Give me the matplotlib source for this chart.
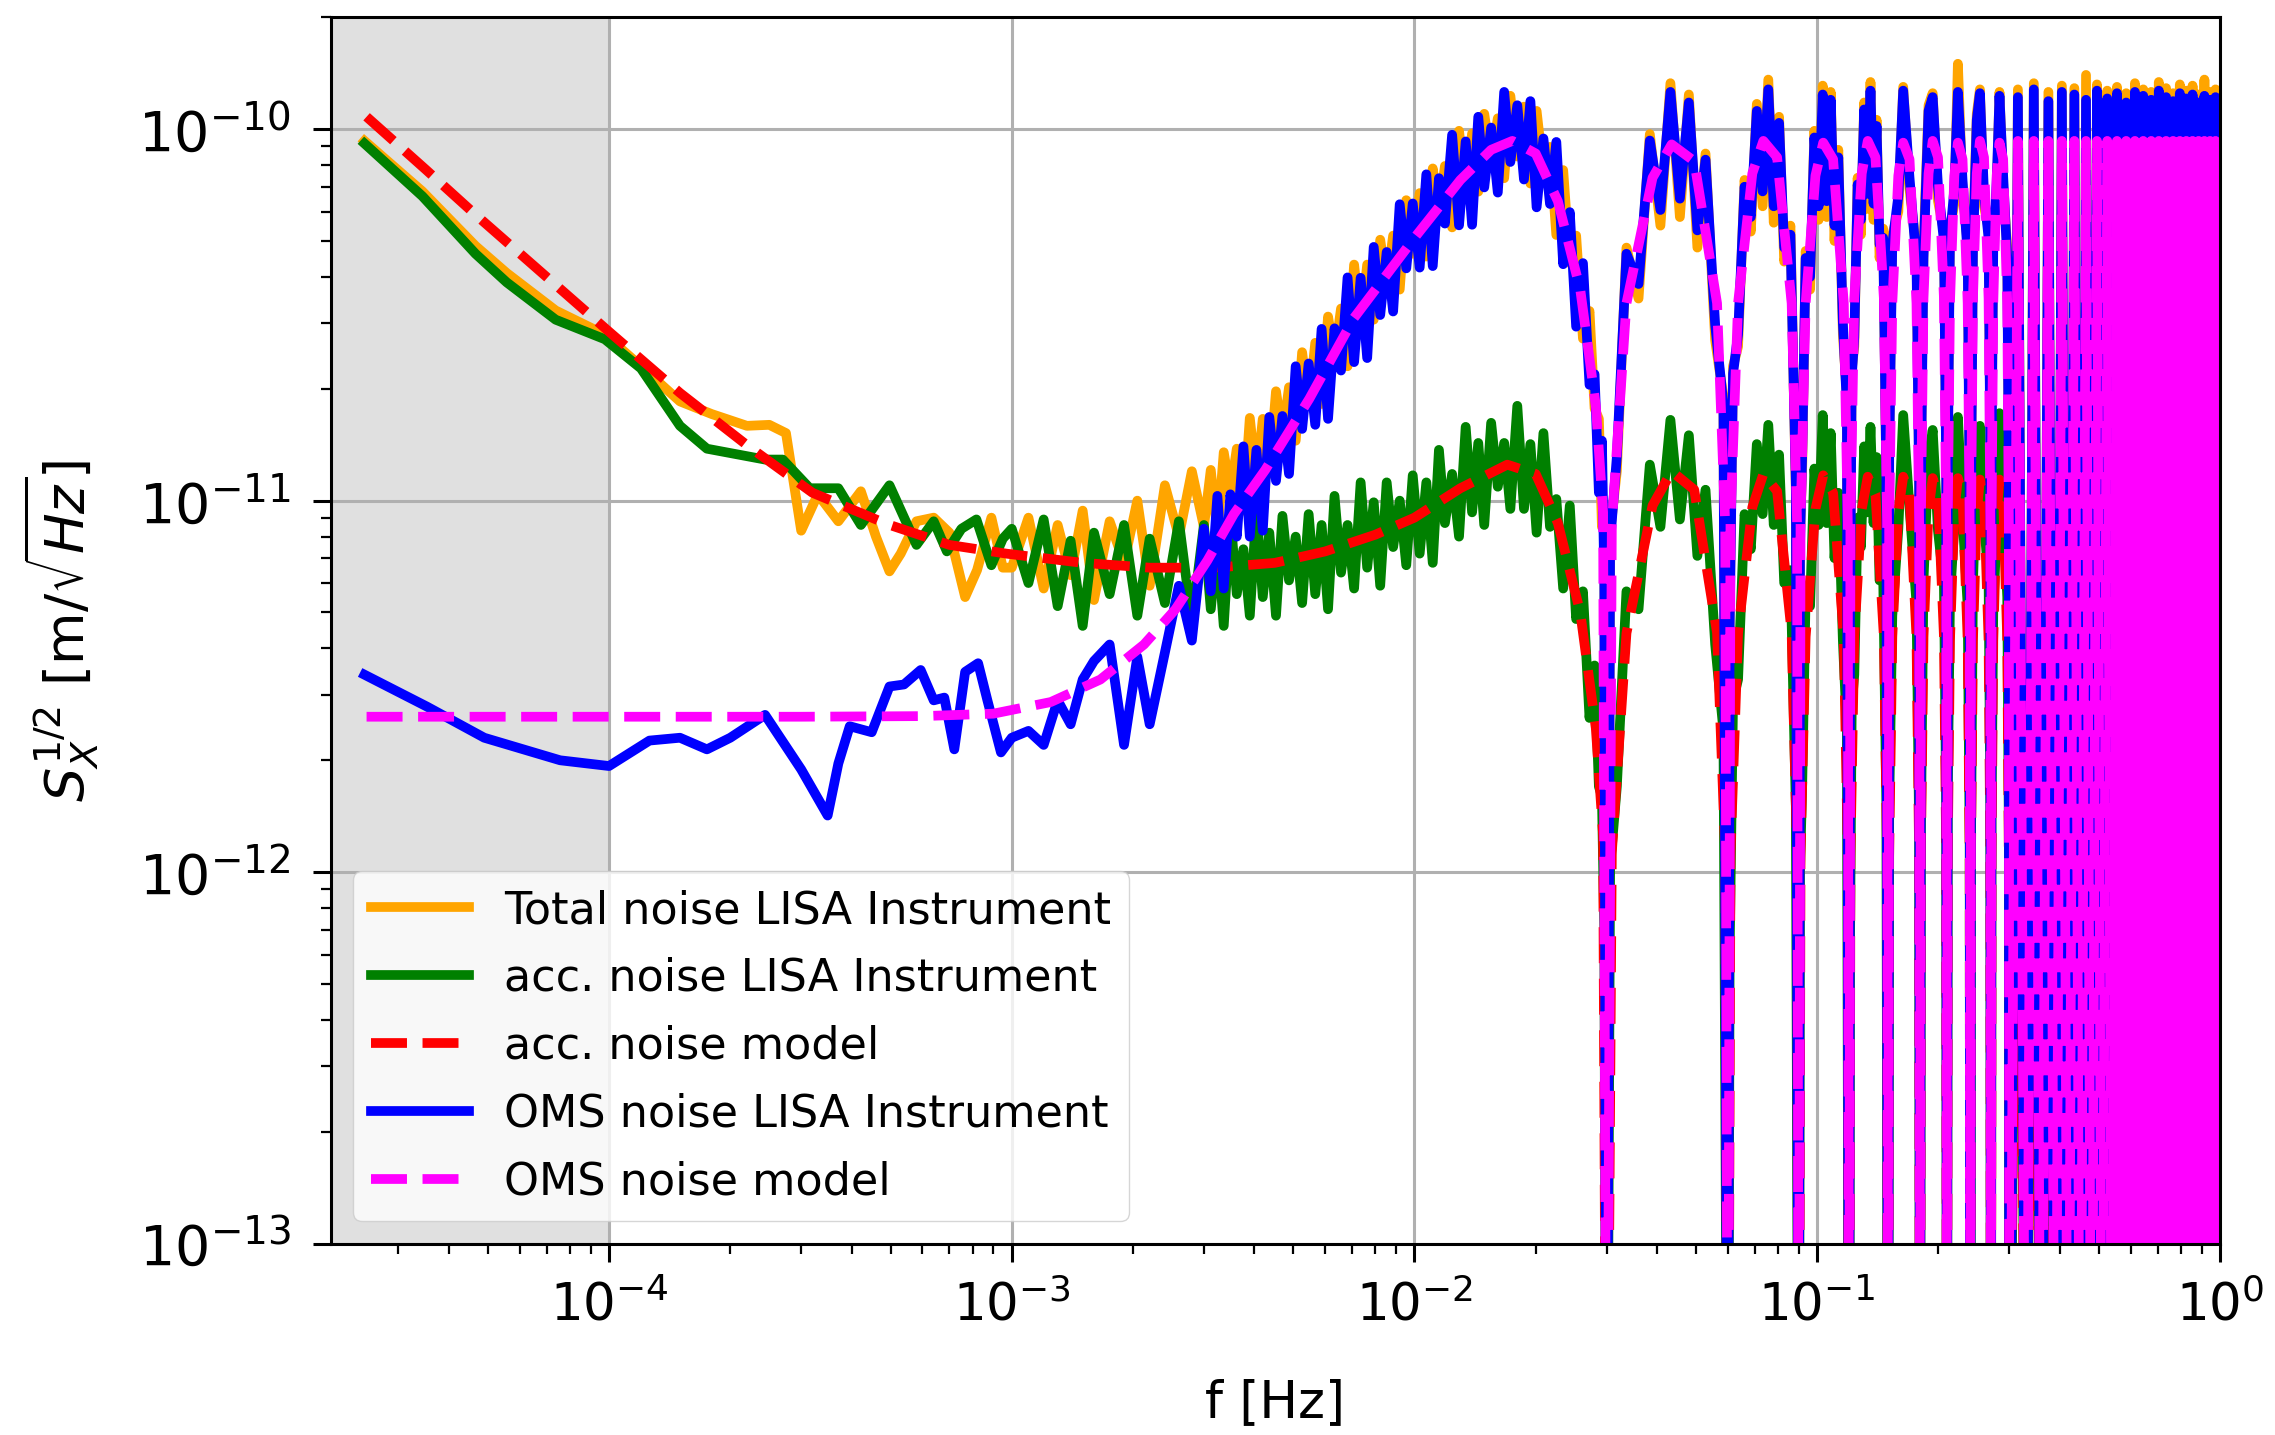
import numpy as np
import matplotlib
matplotlib.use('Agg')
import matplotlib.pyplot as plt

# all noise values below are in pm/sqrt(Hz) (1 pm = 1e-12 m)

# ---- low frequency part of the measured curves ----
green_low_f = [2.47e-5, 3.44e-5, 4.66e-5, 5.57e-5, 7.37e-5, 9.76e-5, 1.2e-4, 1.5e-4, 1.75e-4, 2.44e-4,
               2.7e-4, 3.15e-4, 3.71e-4, 4.22e-4, 4.97e-4, 5.8e-4, 6.4e-4, 6.9e-4, 7.5e-4, 8.17e-4,
               8.9e-4, 9.5e-4]
green_low_v = [91.5, 66, 46.2, 38.7, 30.7, 27.2, 22.7, 15.9, 13.8, 12.9,
               12.9, 10.8, 10.8, 8.6, 11.0, 7.6, 8.8, 7.3, 8.4, 8.9,
               6.7, 7.9]

orange_low_f = [2.47e-5, 3.44e-5, 4.66e-5, 5.57e-5, 7.37e-5, 9.76e-5, 1.2e-4, 1.5e-4, 1.8e-4, 2.2e-4,
                2.5e-4, 2.75e-4, 3.0e-4, 3.3e-4, 3.71e-4, 4.22e-4, 4.6e-4, 4.97e-4, 5.3e-4, 5.8e-4,
                6.4e-4, 7.0e-4, 7.66e-4, 8.2e-4, 8.9e-4, 9.5e-4]
orange_low_v = [93, 68, 48.5, 41, 32.5, 28, 23, 18.5, 17.1, 15.9,
                16.0, 15.2, 8.3, 10.4, 8.8, 10.6, 8.0, 6.45, 7.2, 8.8,
                9.0, 8.2, 5.5, 6.5, 9.0, 6.6]

blue_low_f = [2.47e-5, 3.53e-5, 4.9e-5, 7.56e-5, 1e-4, 1.26e-4, 1.5e-4, 1.75e-4, 2.0e-4, 2.44e-4,
              3.0e-4, 3.49e-4, 3.71e-4, 3.96e-4, 4.49e-4, 4.97e-4, 5.4e-4, 5.94e-4, 6.4e-4, 6.8e-4,
              7.2e-4, 7.66e-4, 8.25e-4, 8.7e-4, 9.4e-4]
blue_low_v = [3.4, 2.79, 2.3, 2.0, 1.93, 2.26, 2.3, 2.14, 2.3, 2.65,
              1.89, 1.42, 1.96, 2.47, 2.38, 3.16, 3.2, 3.5, 2.9, 2.95,
              2.14, 3.46, 3.65, 2.9, 2.1]

# ---- models below 30 mHz ----
acc_model_f = [2.5e-5, 3.5e-5, 4.65e-5, 7e-5, 1e-4, 1.5e-4, 2.22e-4, 3.2e-4, 4.9e-4, 7e-4,
               9.7e-4, 1.5e-3, 2.2e-3, 3.2e-3, 4.5e-3, 6e-3, 8e-3, 1e-2, 1.3e-2, 1.7e-2,
               2.0e-2, 2.27e-2, 2.58e-2, 2.82e-2, 2.94e-2]
acc_model_v = [108, 78, 59, 40, 28.5, 19.5, 14.0, 10.5, 8.65, 7.6,
               7.2, 6.8, 6.6, 6.6, 6.8, 7.3, 8.1, 9.0, 10.8, 12.5,
               11.8, 8.7, 5.0, 2.44, 1.26]

oms_model_f = [2.5e-5, 1e-4, 3e-4, 6e-4, 9e-4, 1.25e-3, 1.66e-3, 2.13e-3, 2.55e-3, 3.06e-3,
               3.56e-3, 4.26e-3, 5.48e-3, 7.07e-3, 1e-2, 1.3e-2, 1.55e-2, 1.75e-2, 2.0e-2, 2.27e-2,
               2.58e-2, 2.82e-2, 2.94e-2]
oms_model_v = [2.62, 2.62, 2.62, 2.63, 2.67, 2.87, 3.3, 4.1, 5.1, 6.9,
               9.2, 12.1, 18.8, 31, 51, 73, 88, 93, 86, 64,
               37, 18, 9.3]

# ---- first lobe of the measured curves (1 mHz - 30 mHz) ----
f_mid = [1.0e-3, 1.1e-3, 1.2e-3, 1.3e-3, 1.4e-3, 1.5e-3, 1.6e-3, 1.75e-3, 1.9e-3, 2.05e-3,
         2.2e-3, 2.4e-3, 2.6e-3, 2.8e-3,
         3.0e-3, 3.12e-3, 3.24e-3, 3.36e-3, 3.49e-3, 3.62e-3, 3.76e-3, 3.9e-3, 4.05e-3, 4.2e-3,
         4.36e-3, 4.53e-3, 4.7e-3, 4.88e-3, 5.07e-3, 5.26e-3, 5.46e-3, 5.67e-3, 5.88e-3, 6.1e-3,
         6.33e-3, 6.57e-3, 6.82e-3, 7.08e-3, 7.35e-3, 7.63e-3, 7.92e-3, 8.22e-3, 8.53e-3, 8.85e-3,
         9.19e-3, 9.54e-3, 9.9e-3, 1.03e-2, 1.07e-2, 1.11e-2, 1.15e-2, 1.19e-2, 1.24e-2, 1.29e-2,
         1.34e-2, 1.39e-2, 1.44e-2, 1.49e-2, 1.55e-2, 1.61e-2, 1.67e-2, 1.73e-2, 1.80e-2, 1.87e-2,
         1.94e-2, 2.01e-2, 2.09e-2, 2.17e-2, 2.25e-2, 2.34e-2, 2.43e-2, 2.52e-2, 2.62e-2, 2.72e-2,
         2.80e-2, 2.87e-2, 2.92e-2, 2.96e-2]
green_mid_v = [8.4, 6.0, 8.9, 5.2, 7.8, 4.6, 8.2, 5.6, 8.6, 4.9,
               7.9, 5.3, 8.8, 4.7,
               8.6, 5.1, 7.8, 4.6, 9.1, 5.6, 7.4, 4.9, 9.5, 5.5,
               8.2, 4.9, 9.1, 6.1, 8.0, 5.3, 9.2, 5.6, 8.6, 5.1,
               10.3, 6.4, 8.6, 5.8, 11.2, 6.6, 9.9, 5.9, 11.2, 7.5,
               10.0, 6.7, 11.7, 7.2, 11.2, 6.8, 13.7, 8.7, 11.8, 8.0,
               15.8, 9.3, 14.3, 8.6, 16.2, 10.9, 14.3, 9.5, 18.0, 9.5,
               14.2, 8.2, 15.2, 8.5, 10.1, 5.8, 9.7, 4.8, 5.7, 2.6,
               3.6, 1.7, 1.6, 0.7]
blue_mid_v = [2.3, 2.4, 2.2, 2.9, 2.5, 3.3, 3.7, 4.1, 2.2, 3.8,
              2.5, 3.9, 5.9, 4.2,
              8.4, 5.7, 10.3, 5.8, 10.4, 8.0, 14.0, 8.0, 13.7, 8.3,
              16.8, 11.3, 16.9, 11.8, 23.0, 15.6, 23.4, 16.0, 29.0, 16.6,
              29.1, 22.4, 39.9, 23.6, 39.8, 24.2, 48.2, 31.6, 46.7, 32.3,
              62.8, 42.2, 63.1, 42.4, 75.6, 42.8, 73.8, 55.7, 96.6, 55.1,
              92.7, 55.3, 108, 69.7, 101, 67.5, 126, 81.6, 116, 73.2,
              119, 61.6, 94.4, 62.9, 92.4, 43.3, 59.8, 29.4, 43.6, 20.5,
              21.9, 10.5, 14.5, 6.2]
orange_mid_v = [6.6, 9.0, 5.8, 8.6, 6.3, 9.4, 5.4, 8.8, 6.8, 10.0,
                5.9, 11.0, 8.0, 12.0,
                8.5, 12.1, 8.1, 13.5, 10.5, 13.8, 9.4, 16.7, 11.4, 16.6,
                11.8, 19.7, 14.9, 20.2, 14.5, 25.1, 18.0, 26.6, 18.2, 31.3,
                24.5, 32.9, 23.0, 43.2, 29.5, 43.2, 30.7, 50.4, 38.2, 51.7,
                37.0, 64.4, 46.2, 67.3, 45.4, 78.4, 60.1, 79.6, 54.4, 99.0,
                67.6, 97.4, 67.9, 110, 81.7, 107, 73.8, 123, 84.4, 115,
                71.4, 112, 76.8, 89.6, 51.9, 77.6, 43.6, 51.7, 27.3, 32.4,
                17.7, 16.6, 8.5, 9.4]

# ---- high frequency lobes, models (nulls every 30 mHz) ----
f_hf = [0.030, 0.0309, 0.0336, 0.039, 0.0435, 0.0495, 0.0564, 0.0591,
        0.060, 0.0609, 0.0636, 0.069, 0.0735, 0.0795, 0.0864, 0.0891,
        0.090, 0.0909, 0.0936, 0.099, 0.1035, 0.1095, 0.1164, 0.1191,
        0.120, 0.1209, 0.1236, 0.129, 0.1335, 0.1395, 0.1464, 0.1491,
        0.150, 0.1509, 0.1536, 0.159, 0.1635, 0.1695, 0.1764, 0.1791,
        0.180, 0.1809, 0.1836, 0.189, 0.1935, 0.1995, 0.2064, 0.2091,
        0.210, 0.2109, 0.2136, 0.219, 0.2235, 0.2295, 0.2364, 0.2391,
        0.240, 0.2409, 0.2436, 0.249, 0.2535, 0.2595, 0.2664, 0.2691,
        0.270, 0.2709, 0.2736, 0.279, 0.2835, 0.2895, 0.2964, 0.2991,
        0.300, 0.315, 0.330, 0.345, 0.360, 0.375, 0.390, 0.405, 0.420, 0.435,
        0.450, 0.465, 0.480, 0.495, 0.510, 0.525, 0.540, 0.555, 0.570, 0.585,
        0.600, 0.615, 0.630, 0.645, 0.660, 0.675, 0.690, 0.705, 0.720, 0.735,
        0.750, 0.765, 0.780, 0.795, 0.810, 0.825, 0.840, 0.855, 0.870, 0.885,
        0.900, 0.915, 0.930, 0.945, 0.960, 0.975, 0.990, 1.000]

oms_model_hf = [0.01, 8.6, 34, 74, 91, 82, 34, 8.6,
                0.01, 8.8, 34, 76, 93, 84, 34, 8.8,
                0.01, 8.7, 34, 75, 92, 83, 34, 8.7,
                0.01, 8.8, 35, 76, 93, 84, 35, 8.8,
                0.01, 8.7, 34, 75, 92, 83, 34, 8.7,
                0.01, 8.8, 35, 76, 93, 84, 35, 8.8,
                0.01, 8.7, 34, 75, 92, 83, 34, 8.7,
                0.01, 8.8, 35, 76, 93, 84, 35, 8.8,
                0.01, 8.7, 34, 75, 92, 83, 34, 8.7,
                0.01, 93, 0.01, 93, 0.01, 93, 0.01, 93, 0.01, 93,
                0.01, 93, 0.01, 93, 0.01, 93, 0.01, 93, 0.01, 93,
                0.01, 93, 0.01, 93, 0.01, 93, 0.01, 93, 0.01, 93,
                0.01, 93, 0.01, 93, 0.01, 93, 0.01, 93, 0.01, 93,
                0.01, 93, 0.01, 93, 0.01, 93, 0.01, 80]

acc_model_hf = [0.01, 1.13, 4.4, 9.7, 12.0, 10.7, 4.4, 1.13,
                0.01, 1.12, 4.4, 9.6, 11.8, 10.6, 4.4, 1.12,
                0.01, 1.11, 4.3, 9.5, 11.7, 10.5, 4.3, 1.11,
                0.01, 1.10, 4.3, 9.5, 11.6, 10.4, 4.3, 1.10,
                0.01, 1.10, 4.3, 9.4, 11.6, 10.4, 4.3, 1.10,
                0.01, 1.10, 4.3, 9.4, 11.5, 10.3, 4.3, 1.10,
                0.01, 1.09, 4.2, 9.3, 11.5, 10.3, 4.2, 1.09,
                0.01, 1.09, 4.2, 9.3, 11.4, 10.2, 4.2, 1.09,
                0.01, 1.08, 4.2, 9.2, 11.4, 10.2, 4.2, 1.08,
                0.01, 11.4, 0.01, 11.3, 0.01, 11.3, 0.01, 11.2, 0.01, 11.2,
                0.01, 11.2, 0.01, 11.1, 0.01, 11.1, 0.01, 11.1, 0.01, 11.0,
                0.01, 11.0, 0.01, 11.0, 0.01, 11.0, 0.01, 10.9, 0.01, 10.9,
                0.01, 10.9, 0.01, 10.9, 0.01, 10.8, 0.01, 10.8, 0.01, 10.8,
                0.01, 10.8, 0.01, 10.8, 0.01, 10.7, 0.01, 9.0]

# ---- high frequency lobes, measured curves ----
f_hf_meas = [0.030, 0.0306, 0.0318, 0.0336, 0.036, 0.0384, 0.0408, 0.0432, 0.0456, 0.048, 0.0504, 0.0528, 0.0558, 0.0585,
             0.060, 0.0606, 0.0618, 0.0636, 0.066, 0.0684, 0.0708, 0.0732, 0.0756, 0.078, 0.0804, 0.0828, 0.0858, 0.0885,
             0.090, 0.0906, 0.0918, 0.0936, 0.096, 0.0984, 0.1008, 0.1032, 0.1056, 0.108, 0.1104, 0.1128, 0.1158, 0.1185,
             0.120, 0.1206, 0.1218, 0.1236, 0.126, 0.1284, 0.1308, 0.1332, 0.1356, 0.138, 0.1404, 0.1428, 0.1458, 0.1485,
             0.150, 0.1509, 0.1536, 0.159, 0.1635, 0.1695, 0.1764, 0.1791,
             0.180, 0.1809, 0.1836, 0.189, 0.1935, 0.1995, 0.2064, 0.2091,
             0.210, 0.2109, 0.2136, 0.219, 0.2235, 0.2295, 0.2364, 0.2391,
             0.240, 0.2409, 0.2436, 0.249, 0.2535, 0.2595, 0.2664, 0.2691,
             0.270, 0.2709, 0.2736, 0.279, 0.2835, 0.2895, 0.2964, 0.2991,
             0.300, 0.315, 0.330, 0.345, 0.360, 0.375, 0.390, 0.405, 0.420, 0.435,
             0.450, 0.465, 0.480, 0.495, 0.510, 0.525, 0.540, 0.555, 0.570, 0.585,
             0.600, 0.615, 0.630, 0.645, 0.660, 0.675, 0.690, 0.705, 0.720, 0.735,
             0.750, 0.765, 0.780, 0.795, 0.810, 0.825, 0.840, 0.855, 0.870, 0.885,
             0.900, 0.915, 0.930, 0.945, 0.960, 0.975, 0.990, 1.000]

green_hf = [0.01, 1.03, 1.7, 5.7, 5.1, 12.5, 8.5, 16.5, 8.9, 15.0, 7.1, 10.7, 4.1, 2.4,
            0.01, 0.6, 2.9, 3.3, 9.2, 7.4, 14.2, 9.2, 16.0, 8.6, 13.3, 6.0, 6.5, 1.5,
            0.01, 1.0, 1.75, 5.6, 5.2, 12.2, 8.6, 17.0, 8.7, 15.2, 7.0, 10.5, 4.2, 2.4,
            0.01, 0.62, 2.8, 3.4, 9.0, 7.5, 14.0, 9.3, 15.8, 8.7, 13.1, 6.1, 6.3, 1.5,
            0.01, 1.5, 4.9, 8.4, 17.0, 9.6, 5.3, 1.3,
            0.01, 1.3, 6.1, 13.0, 15.5, 8.3, 5.9, 1.5,
            0.01, 1.6, 5.4, 8.6, 16.8, 9.1, 5.2, 1.2,
            0.01, 1.2, 6.0, 12.6, 15.9, 8.8, 6.1, 1.5,
            0.01, 1.4, 5.1, 8.3, 17.2, 9.4, 5.5, 1.3,
            0.01, 15.5, 0.01, 17.0, 0.01, 14.8, 0.01, 16.4, 0.01, 15.2,
            0.01, 16.8, 0.01, 14.6, 0.01, 16.0, 0.01, 15.4, 0.01, 17.2,
            0.01, 14.9, 0.01, 16.2, 0.01, 15.0, 0.01, 16.6, 0.01, 14.7,
            0.01, 15.8, 0.01, 16.9, 0.01, 15.1, 0.01, 16.3, 0.01, 14.8,
            0.01, 16.1, 0.01, 15.6, 0.01, 16.5, 0.01, 13.0]

blue_hf = [0.01, 7.7, 13.1, 46.2, 38.3, 93.2, 60.6, 126, 65.0, 118, 53.4, 82.8, 29.7, 18.1,
           0.01, 4.5, 22.0, 28.0, 70.0, 58.0, 112, 68.0, 128, 62.0, 104, 48.0, 52.0, 11.0,
           0.01, 7.5, 13.5, 45.0, 40.0, 95.0, 62.0, 124, 64.0, 120, 55.0, 84.0, 30.0, 18.0,
           0.01, 4.6, 21.5, 27.5, 71.0, 57.0, 113, 67.0, 127, 63.0, 102, 49.0, 51.0, 11.5,
           0.01, 13, 49, 66, 127, 74, 44, 11,
           0.01, 11, 45, 112, 122, 70, 50, 12,
           0.01, 12, 51, 69, 126, 73, 46, 10,
           0.01, 10, 47, 106, 125, 67, 51, 13,
           0.01, 13, 48, 72, 123, 75, 45, 11,
           0.01, 122, 0.01, 128, 0.01, 119, 0.01, 126, 0.01, 124,
           0.01, 120, 0.01, 127, 0.01, 121, 0.01, 125, 0.01, 118,
           0.01, 126, 0.01, 123, 0.01, 120, 0.01, 127, 0.01, 122,
           0.01, 119, 0.01, 125, 0.01, 121, 0.01, 124, 0.01, 118,
           0.01, 123, 0.01, 120, 0.01, 122, 0.01, 110]

orange_hf = [0.01, 8.2, 12.0, 48.0, 35.0, 97.0, 55.0, 133, 58.0, 124, 48.0, 86.0, 27.0, 19.0,
             0.01, 4.8, 23.0, 26.0, 73.0, 53.0, 117, 62.0, 136, 56.0, 108, 44.0, 55.0, 10.5,
             0.01, 7.9, 12.5, 47.0, 37.0, 99.0, 57.0, 131, 58.0, 126, 50.0, 88.0, 28.0, 19.0,
             0.01, 4.9, 22.5, 26.0, 74.0, 52.0, 118, 61.0, 134, 57.0, 106, 45.0, 54.0, 11.0,
             0.01, 14, 52, 60, 130, 69, 47, 12,
             0.01, 12, 48, 116, 125, 64, 53, 13,
             0.01, 13, 54, 63, 150, 68, 49, 11,
             0.01, 11, 50, 110, 128, 62, 54, 14,
             0.01, 14, 51, 66, 126, 70, 48, 12,
             0.01, 128, 0.01, 133, 0.01, 126, 0.01, 131, 0.01, 129,
             0.01, 140, 0.01, 132, 0.01, 127, 0.01, 130, 0.01, 125,
             0.01, 133, 0.01, 128, 0.01, 126, 0.01, 134, 0.01, 129,
             0.01, 125, 0.01, 132, 0.01, 127, 0.01, 131, 0.01, 124,
             0.01, 136, 0.01, 126, 0.01, 128, 0.01, 120]

pm = 1e-12

f_total = np.array(orange_low_f + f_mid + f_hf_meas)
s_total = np.array(orange_low_v + orange_mid_v + orange_hf) * pm
f_acc = np.array(green_low_f + f_mid + f_hf_meas)
s_acc = np.array(green_low_v + green_mid_v + green_hf) * pm
f_accm = np.array(acc_model_f + f_hf)
s_accm = np.array(acc_model_v + acc_model_hf) * pm
f_oms = np.array(blue_low_f + f_mid + f_hf_meas)
s_oms = np.array(blue_low_v + blue_mid_v + blue_hf) * pm
f_omsm = np.array(oms_model_f + f_hf)
s_omsm = np.array(oms_model_v + oms_model_hf) * pm

fig = plt.figure(figsize=(22.75, 14.35), dpi=100)
ax = fig.add_axes([0.1455, 0.1334, 0.8303, 0.8545])

# shaded band below 0.1 mHz
ax.axvspan(2.04e-5, 1e-4, color='#e0e0e0', zorder=0)

lw = 7
ax.plot(f_total, s_total, color='orange', lw=lw, label='Total noise LISA Instrument')
ax.plot(f_acc, s_acc, color='green', lw=lw, label='acc. noise LISA Instrument')
ax.plot(f_accm, s_accm, color='red', lw=lw, ls='--', label='acc. noise model')
ax.plot(f_oms, s_oms, color='blue', lw=lw, label='OMS noise LISA Instrument')
ax.plot(f_omsm, s_omsm, color='magenta', lw=lw, ls='--', label='OMS noise model')

ax.set_xscale('log')
ax.set_yscale('log')
ax.set_xlim(2.04e-5, 1.0)
ax.set_ylim(1e-13, 2.0e-10)
ax.set_xticks([1e-4, 1e-3, 1e-2, 1e-1, 1.0])
ax.set_yticks([1e-13, 1e-12, 1e-11, 1e-10])

ax.grid(True, which='major', color='#b0b0b0', lw=2.2)
for s in ax.spines.values():
    s.set_linewidth(2.2)
ax.tick_params(which='major', length=13, width=2.2)
ax.tick_params(which='minor', length=7, width=1.6)
ax.tick_params(axis='x', which='major', labelsize=37, pad=14)
ax.tick_params(axis='y', which='major', labelsize=40, pad=16)

ax.set_xlabel('f [Hz]', fontsize=37)
ax.set_ylabel(r'$S_X^{1/2}$ [m/$\sqrt{Hz}$]', fontsize=39)
ax.xaxis.set_label_coords(0.5, -0.11)
ax.yaxis.set_label_coords(-0.122, 0.5)

ax.legend(loc='lower left', fontsize=32, handlelength=2.2, labelspacing=0.56,
          framealpha=0.8, borderaxespad=0.5)

fig.savefig('out.png', dpi=100)
